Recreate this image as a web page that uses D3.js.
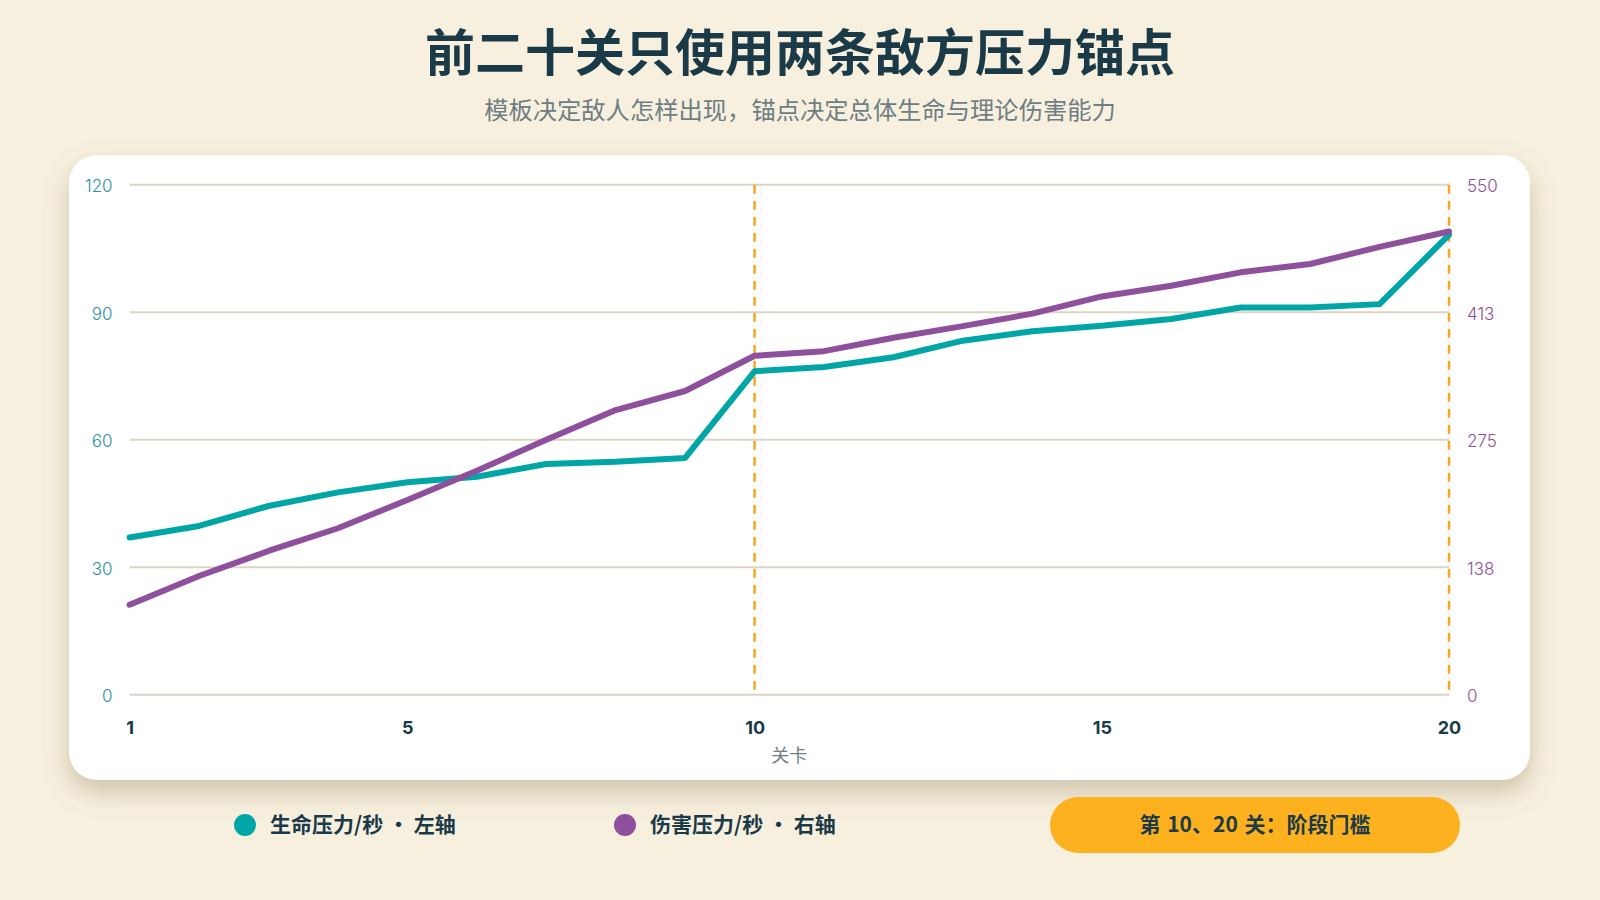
<!DOCTYPE html>
<html><head><meta charset="utf-8">
<script src="https://cdn.jsdelivr.net/npm/d3@7"></script>
<style>
html,body{margin:0;padding:0;background:#F8F0DF;}
svg{display:block;font-family:"Noto Sans CJK SC","Noto Sans",sans-serif;}
</style></head><body>
<svg id="chart" width="1600" height="900"></svg>
<script>
const levels = d3.range(1, 21);
const lifePressure = [37, 39.7, 44.4, 47.6, 50, 51.3, 54.3, 54.8, 55.7, 76.1, 77.1, 79.4, 83.3, 85.5, 86.8, 88.4, 91.1, 91.1, 91.9, 108.2];
const damagePressure = [97, 128, 155, 179.5, 210, 241.5, 275, 307, 327.5, 365.5, 370.5, 385, 397.5, 411, 429.5, 441, 455.5, 464.5, 483, 499.5];
const leftTicks = [0, 30, 60, 90, 120];
const rightTicks = [0, 137.5, 275, 412.5, 550];
const xTicks = [1, 5, 10, 15, 20];
const thresholds = [10, 20];
const title = "前二十关只使用两条敌方压力锚点";
const subtitle = "模板决定敌人怎样出现，锚点决定总体生命与理论伤害能力";
const legendItems = [
  {label: "生命压力/秒 · 左轴", color: "#00A6A6"},
  {label: "伤害压力/秒 · 右轴", color: "#8E4F9C"}
];
const badgeText = "第 10、20 关：阶段门槛";

const svg = d3.select("#chart");
const defs = svg.append("defs");
const f = defs.append("filter").attr("id","shadow").attr("x","-10%").attr("y","-10%").attr("width","120%").attr("height","135%");
f.append("feDropShadow").attr("dx",0).attr("dy",12).attr("stdDeviation",13).attr("flood-color","#7a6a45").attr("flood-opacity",0.34);

svg.append("rect").attr("width",1600).attr("height",900).attr("fill","#F8F0DF");

svg.append("text").attr("x",800).attr("y",71).attr("text-anchor","middle")
  .attr("font-size",50).attr("font-weight",700).attr("fill","#1B3A48").text(title);
svg.append("text").attr("x",800).attr("y",119).attr("text-anchor","middle")
  .attr("font-size",24.3).attr("fill","#6E7E82").text(subtitle);

svg.append("rect").attr("x",69).attr("y",155).attr("width",1461).attr("height",625)
  .attr("rx",28).attr("fill","#fff").attr("filter","url(#shadow)");

const x = d3.scaleLinear().domain([1,20]).range([129.6,1449]);
const yL = d3.scaleLinear().domain([0,120]).range([694.7,184.7]);
const yR = d3.scaleLinear().domain([0,550]).range([694.7,184.7]);

const g = svg.append("g");
g.append("g").selectAll("line").data(leftTicks).join("line")
  .attr("x1",x(1)).attr("x2",x(20)).attr("y1",d=>yL(d)).attr("y2",d=>yL(d))
  .attr("stroke","#DDD4C2").attr("stroke-width",2);

const axL = g.append("g").attr("transform",`translate(${x(1)},1.5)`)
  .call(d3.axisLeft(yL).tickValues(leftTicks).tickSize(0).tickPadding(17));
axL.select(".domain").remove();
axL.selectAll("text").attr("font-size",17).attr("fill","#2A8FA0").attr("font-family","Inter, 'Noto Sans', sans-serif").attr("font-weight",300);

const axR = g.append("g").attr("transform",`translate(${x(20)},1.5)`)
  .call(d3.axisRight(yR).tickValues(rightTicks).tickSize(0).tickPadding(18).tickFormat(d3.format(".0f")));
axR.select(".domain").remove();
axR.selectAll("text").attr("font-size",17).attr("fill","#8E4F9C").attr("font-family","Inter, 'Noto Sans', sans-serif").attr("font-weight",300);

const axB = g.append("g").attr("transform",`translate(0,${yL(0)})`)
  .call(d3.axisBottom(x).tickValues(xTicks).tickSize(0).tickPadding(27).tickFormat(d3.format("d")));
axB.select(".domain").remove();
axB.selectAll("text").attr("font-size",18).attr("font-weight",700).attr("fill","#1B3A48").attr("font-family","Inter, 'Noto Sans', sans-serif");

g.append("text").attr("x",(x(1)+x(20))/2).attr("y",762).attr("text-anchor","middle")
  .attr("font-size",18).attr("fill","#6E7E82").text("关卡");

g.append("g").selectAll("line").data(thresholds).join("line")
  .attr("x1",d=>x(d)).attr("x2",d=>x(d)).attr("y1",yL(120)).attr("y2",yL(0))
  .attr("stroke","#F5A623").attr("stroke-width",2.5).attr("stroke-dasharray","9 7");

const lineL = d3.line().x((d,i)=>x(levels[i])).y(d=>yL(d));
const lineR = d3.line().x((d,i)=>x(levels[i])).y(d=>yR(d));
g.append("path").datum(lifePressure).attr("d",lineL).attr("fill","none")
  .attr("stroke","#00A6A6").attr("stroke-width",6).attr("stroke-linejoin","round").attr("stroke-linecap","round");
g.append("path").datum(damagePressure).attr("d",lineR).attr("fill","none")
  .attr("stroke","#8E4F9C").attr("stroke-width",6).attr("stroke-linejoin","round").attr("stroke-linecap","round");

const legendX = [245, 625];
const lg = svg.append("g").selectAll("g").data(legendItems).join("g")
  .attr("transform",(d,i)=>`translate(${legendX[i]},825)`);
lg.append("circle").attr("r",11).attr("fill",d=>d.color);
lg.append("text").attr("x",25).attr("dy","0.35em").attr("font-size",21).attr("font-weight",700)
  .attr("fill","#1B3A48").text(d=>d.label);

svg.append("rect").attr("x",1050).attr("y",797).attr("width",410).attr("height",56).attr("rx",28).attr("fill","#FDB11E");
svg.append("text").attr("x",1255).attr("y",825).attr("dy","0.35em").attr("text-anchor","middle")
  .attr("font-size",21).attr("font-weight",700).attr("fill","#1B3A48").attr("word-spacing",2).text(badgeText);
</script></body></html>
